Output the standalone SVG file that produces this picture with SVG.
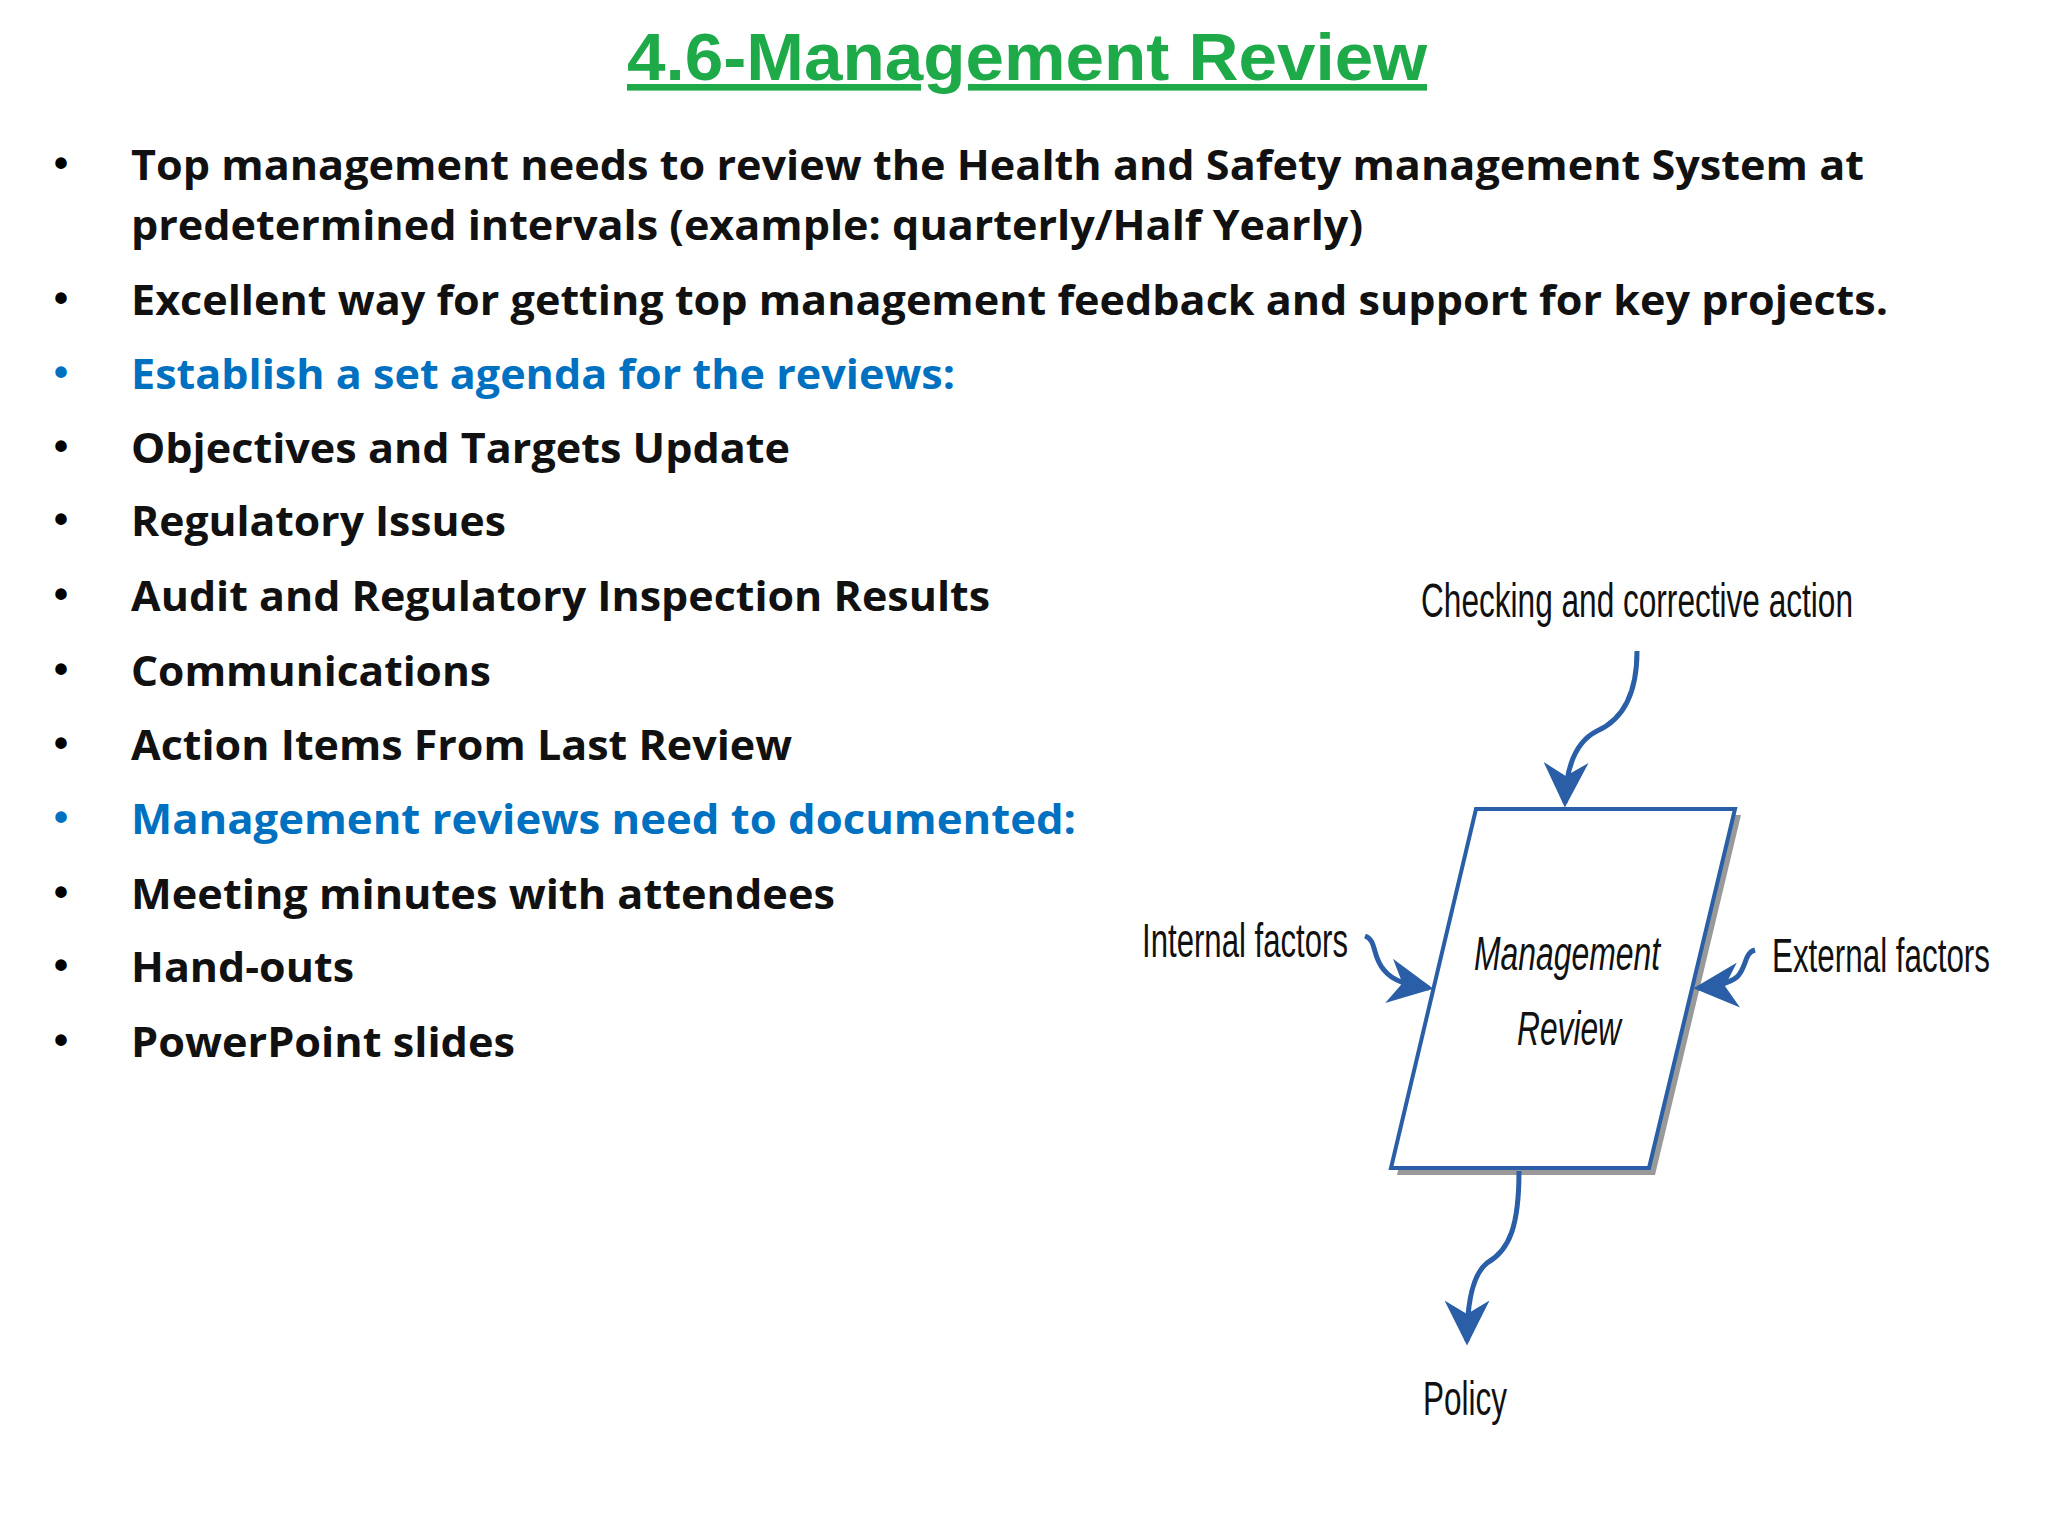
<svg xmlns="http://www.w3.org/2000/svg" width="2048" height="1536" viewBox="0 0 2048 1536">
<style>
.b{font-family:"Open Sans","Liberation Sans",sans-serif;font-weight:bold;font-size:41px;fill:#111}
.bl{fill:#0070c0}
.d{font-family:"Liberation Sans",Arial,sans-serif;font-size:48px;fill:#111}
.c{fill:none;stroke:#2a5fa8;stroke-width:5}
</style>
<defs>
<marker id="ah" viewBox="0 0 20 20" refX="18" refY="10" markerWidth="9" markerHeight="9" orient="auto" markerUnits="strokeWidth">
<path d="M0,0 L20,10 L0,20 L6,10 Z" fill="#2a5fa8"/>
</marker>
</defs>
<rect width="2048" height="1536" fill="#fff"/>
<g id="title">
<text x="627" y="80" font-family="Liberation Sans,Arial,sans-serif" font-weight="bold" font-size="66" fill="#1faa4a" textLength="800" lengthAdjust="spacingAndGlyphs" text-decoration="underline">4.6-Management Review </text>
</g>
<g id="bullets">
<g font-family="Liberation Sans,sans-serif" font-size="40" font-weight="bold">
<text x="54" y="177">•</text><text x="54" y="312">•</text><text x="54" y="386" fill="#0070c0">•</text><text x="54" y="460">•</text><text x="54" y="533">•</text><text x="54" y="608">•</text><text x="54" y="683">•</text><text x="54" y="757">•</text><text x="54" y="831" fill="#0070c0">•</text><text x="54" y="906">•</text><text x="54" y="979">•</text><text x="54" y="1054">•</text>
</g>
<text class="b" x="131" y="180" textLength="1733" lengthAdjust="spacingAndGlyphs">Top management needs to review the Health and Safety management System at</text>
<text class="b" x="131" y="240" textLength="1232" lengthAdjust="spacingAndGlyphs">predetermined intervals (example: quarterly/Half Yearly)</text>
<text class="b" x="131" y="315" textLength="1757" lengthAdjust="spacingAndGlyphs">Excellent way for getting top management feedback and support for key projects.</text>
<text class="b bl" x="131" y="389" textLength="824" lengthAdjust="spacingAndGlyphs">Establish a set agenda for the reviews:</text>
<text class="b" x="131" y="463" textLength="659" lengthAdjust="spacingAndGlyphs">Objectives and Targets Update</text>
<text class="b" x="131" y="536" textLength="375" lengthAdjust="spacingAndGlyphs">Regulatory Issues</text>
<text class="b" x="131" y="611" textLength="859" lengthAdjust="spacingAndGlyphs">Audit and Regulatory Inspection Results</text>
<text class="b" x="131" y="686" textLength="360" lengthAdjust="spacingAndGlyphs">Communications</text>
<text class="b" x="131" y="760" textLength="661" lengthAdjust="spacingAndGlyphs">Action Items From Last Review</text>
<text class="b bl" x="131" y="834" textLength="945" lengthAdjust="spacingAndGlyphs">Management reviews need to documented:</text>
<text class="b" x="131" y="909" textLength="704" lengthAdjust="spacingAndGlyphs">Meeting minutes with attendees</text>
<text class="b" x="131" y="982" textLength="223" lengthAdjust="spacingAndGlyphs">Hand-outs</text>
<text class="b" x="131" y="1057" textLength="384" lengthAdjust="spacingAndGlyphs">PowerPoint slides</text>
</g>
<g transform="translate(-8,-5)">
<g id="review">
<polygon points="1490,820 1749,820 1663,1180 1405,1180" fill="#999"/>
<polygon points="1484,814 1743,814 1657,1173 1399,1173" fill="#fff" stroke="#2a5fa8" stroke-width="4"/>
<text class="d" font-style="italic" x="1575" y="975" text-anchor="middle" textLength="186" lengthAdjust="spacingAndGlyphs">Management</text>
<text class="d" font-style="italic" x="1577" y="1050" text-anchor="middle" textLength="104" lengthAdjust="spacingAndGlyphs">Review</text>
</g>
<g id="labels">
<text class="d" x="1429" y="622" textLength="432" lengthAdjust="spacingAndGlyphs">Checking and corrective action</text>
<text class="d" x="1150" y="962" textLength="206" lengthAdjust="spacingAndGlyphs">Internal factors</text>
<text class="d" x="1780" y="977" textLength="218" lengthAdjust="spacingAndGlyphs">External factors</text>
<text class="d" x="1431" y="1420" textLength="84" lengthAdjust="spacingAndGlyphs">Policy</text>
</g>
<g id="connectors">
<path class="c" marker-end="url(#ah)" d="M1645,656 C1645,700 1630,725 1605,736 C1585,746 1574,770 1573,808"/>
<path class="c" marker-end="url(#ah)" d="M1373,941 C1385,945 1380,962 1392,975 C1402,988 1420,990 1437,993"/>
<path class="c" marker-end="url(#ah)" d="M1763,955 C1752,958 1755,972 1745,982 C1735,990 1720,992 1706,993"/>
<path class="c" marker-end="url(#ah)" d="M1527,1176 C1527,1230 1518,1255 1495,1268 C1480,1280 1475,1310 1475,1346"/>
</g>
</g>
</svg>
